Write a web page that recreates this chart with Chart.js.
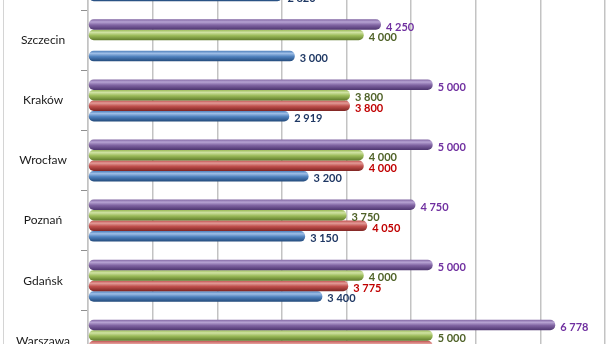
<!DOCTYPE html>
<html>
<head>
<meta charset="utf-8">
<script src="https://cdn.jsdelivr.net/npm/chart.js@4.4.1/dist/chart.umd.min.js"></script>
<style>
  html, body { margin:0; padding:0; background:#fff; overflow:hidden; }
  #wrap { position:relative; width:611px; height:344px; overflow:hidden; }
  /* the picture is a cut out of a taller chart */
  #box { position:absolute; left:0; top:-68px; width:611px; height:457px; }
</style>
</head>
<body>
<div id="wrap"><div id="box"><canvas id="graphCanvas"></canvas></div></div>
<script>
// cities, top to bottom (first one and last one are cut by the picture)
var cities = ['Łódź', 'Szczecin', 'Kraków', 'Wrocław', 'Poznań', 'Gdańsk', 'Warszawa'];

// series, drawn top to bottom inside each city
var purpleVals = [null, 4250, 5000, 5000, 4750, 5000, 6778];
var greenVals  = [null, 4000, 3800, 4000, 3750, 4000, 5000];
var redVals    = [null, null, 3800, 4000, 4050, 3775, 5000];
var blueVals   = [2820, 3000, 2919, 3200, 3150, 3400, null];

var xTicksMax = 7500;
var xStep = 1000;

// cylinder shades: light top, body, dark bottom
var shades = [
  ['#b7a3d3', '#8064a2', '#4e3570'],
  ['#cfe2a3', '#9bbb59', '#5f7a2c'],
  ['#e29a97', '#c0504d', '#7f2523'],
  ['#9dbde6', '#4f81bd', '#22497a']
];
var labelColors = ['#7030a0', '#4f6228', '#c00000', '#1f3864'];

function fmt(v) {
  return String(v).replace(/\B(?=(\d{3})+(?!\d))/g, ' ');
}

function cylinder(si) {
  return function (c) {
    var s = shades[si];
    if (c.type !== 'data') return s[1];
    var y = c.chart.scales.y;
    if (!y || !c.chart.chartArea) return s[1];
    var catH = Math.abs(y.getPixelForValue(1) - y.getPixelForValue(0));
    var barH = catH * 0.7 / 4;
    var top = y.getPixelForValue(c.dataIndex) - catH * 0.35 + c.datasetIndex * barH;
    var g = c.chart.ctx.createLinearGradient(0, top, 0, top + barH);
    g.addColorStop(0, s[1]);
    g.addColorStop(0.25, s[0]);
    g.addColorStop(0.55, s[1]);
    g.addColorStop(1, s[2]);
    return g;
  };
}

var series = [purpleVals, greenVals, redVals, blueVals];
var datasets = [];
for (var i = 0; i < series.length; i++) {
  datasets.push({
    label: 'Seria ' + (4 - i),
    data: series[i],
    backgroundColor: cylinder(i),
    borderRadius: 5,
    borderSkipped: false,
    categoryPercentage: 0.7,
    barPercentage: 1.0
  });
}

var valueLabels = {
  id: 'valueLabels',
  afterDatasetsDraw: function (chart) {
    var ctx = chart.ctx;
    ctx.save();
    ctx.font = 'bold 11px Lato';
    ctx.textAlign = 'left';
    ctx.textBaseline = 'middle';
    chart.data.datasets.forEach(function (ds, di) {
      var meta = chart.getDatasetMeta(di);
      ctx.fillStyle = labelColors[di];
      meta.data.forEach(function (el, k) {
        var v = ds.data[k];
        if (v === null) return;
        ctx.fillText(fmt(v), el.x + 5, el.y + 2.5);
      });
    });
    ctx.restore();
  }
};

var outerBorder = {
  id: 'outerBorder',
  beforeDraw: function (chart) {
    var ctx = chart.ctx;
    ctx.save();
    ctx.strokeStyle = '#d4d4d4';
    ctx.lineWidth = 1;
    ctx.beginPath();
    ctx.moveTo(3.5, 0);
    ctx.lineTo(3.5, chart.height);
    ctx.stroke();
    ctx.restore();
  }
};

new Chart(document.getElementById('graphCanvas'), {
  type: 'bar',
  data: { labels: cities, datasets: datasets },
  plugins: [valueLabels, outerBorder],
  options: {
    indexAxis: 'y',
    responsive: true,
    maintainAspectRatio: false,
    animation: false,
    layout: { padding: { top: 3, bottom: 3, left: 0, right: 6 } },
    plugins: { legend: { display: false }, tooltip: { enabled: false } },
    scales: {
      x: {
        min: 0,
        max: xTicksMax,
        ticks: { display: false, stepSize: xStep },
        grid: { color: '#c3c3c3', lineWidth: 1.5, drawTicks: false },
        border: { display: false },
        afterFit: function (s) { s.height = 0; }
      },
      y: {
        ticks: {
          color: '#1a1a1a',
          font: { family: 'Lato', size: 12 },
          crossAlign: 'center',
          padding: 11
        },
        grid: { drawOnChartArea: false, tickLength: 7, color: '#8f8f8f' },
        border: { color: '#c3c3c3', width: 1.5 },
        afterFit: function (s) { s.width = 88; }
      }
    }
  }
});
</script>
</body>
</html>
